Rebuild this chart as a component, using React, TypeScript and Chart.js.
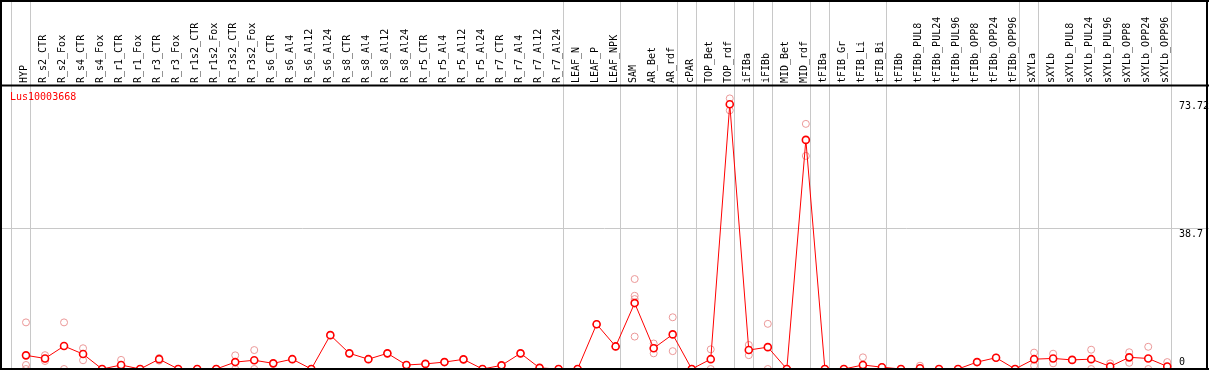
import React, { useEffect, useRef } from "react";
import { Chart, registerables } from "chart.js";

Chart.register(...registerables);

const categories = [
  "HYP", "R_s2_CTR", "R_s2_Fox", "R_s4_CTR", "R_s4_Fox", "R_r1_CTR", "R_r1_Fox", "R_r3_CTR", "R_r3_Fox",
  "R_r1s2_CTR", "R_r1s2_Fox", "R_r3s2_CTR", "R_r3s2_Fox", "R_s6_CTR", "R_s6_Al4", "R_s6_Al12", "R_s6_Al24",
  "R_s8_CTR", "R_s8_Al4", "R_s8_Al12", "R_s8_Al24", "R_r5_CTR", "R_r5_Al4", "R_r5_Al12", "R_r5_Al24",
  "R_r7_CTR", "R_r7_Al4", "R_r7_Al12", "R_r7_Al24", "LEAF_N", "LEAF_P", "LEAF_NPK", "SAM", "AR_Bet", "AR_rdf",
  "cPAR", "TOP_Bet", "TOP_rdf", "iFIBa", "iFIBb", "MID_Bet", "MID_rdf", "tFIBa", "tFIB_Gr", "tFIB_Li", "tFIB_Bi",
  "tFIBb", "tFIBb_PUL8", "tFIBb_PUL24", "tFIBb_PUL96", "tFIBb_OPP8", "tFIBb_OPP24", "tFIBb_OPP96",
  "sXYLa", "sXYLb", "sXYLb_PUL8", "sXYLb_PUL24", "sXYLb_PUL96", "sXYLb_OPP8", "sXYLb_OPP24", "sXYLb_OPP96",
];

const means = [
  3.75, 2.9, 6.3, 4.1, 0, 1.1, 0, 2.7, 0,
  0, 0, 1.9, 2.4, 1.55, 2.7, 0, 9.3,
  4.3, 2.7, 4.3, 1.1, 1.4, 1.9, 2.65, 0,
  1.0, 4.3, 0.3, 0, 0, 12.3, 6.2, 18.1, 5.7, 9.5,
  0, 2.7, 72.7, 5.2, 6.0, 0, 62.9, 0, 0, 1.1, 0.5,
  0, 0.2, 0, 0, 1.9, 3.1, 0,
  2.7, 2.9, 2.5, 2.7, 0.7, 3.2, 2.9, 0.7,
];

const rep1 = [
  12.8, 3.8, 12.8, 5.7, 0, 2.5, 0, 3.0, 0,
  0, 0, 3.75, 5.2, 1.55, 2.7, 0, 9.3,
  4.3, 2.7, 4.3, 1.1, 1.4, 1.9, 2.65, 0,
  1.0, 4.3, 0.3, 0, 0, 12.3, 6.2, 24.7, 7.0, 14.2,
  0, 5.4, 74.3, 6.6, 12.4, 0, 67.3, 0, 0, 3.2, 0.5,
  0, 0.9, 0, 0, 1.9, 3.1, 0,
  4.5, 4.2, 2.5, 5.3, 1.55, 4.6, 6.1, 1.9,
];

const rep2 = [
  1.1, 2.2, 0, 2.4, 0, 0, 0, 2.3, 0,
  0, 0, 0, 0, 1.55, 2.7, 0, 9.3,
  4.3, 2.7, 4.3, 1.1, 1.4, 1.9, 2.65, 0,
  1.0, 4.3, 0.3, 0, 0, 12.3, 6.2, 20.1, 4.3, 4.9,
  0, 0, 71.0, 3.8, 0, 0, 58.5, 0, 0, 0, 0.5,
  0, 0, 0, 0, 1.9, 3.1, 0,
  0.9, 1.55, 2.5, 0, 0, 1.7, 0, 0,
];

const rep3 = [
  0, 2.8, null, null, 0, 0.7, 0, 2.8, 0,
  0, 0, null, null, null, null, 0, null,
  null, null, null, null, null, null, null, 0,
  null, null, 0, 0, 0, null, null, 19.2, 5.8, null,
  0, null, null, null, null, 0, null, 0, 0, 0, null,
  0, 0, 0, 0, null, null, 0,
  null, null, null, null, null, null, null, null,
];

const rep4 = [
  null, null, null, null, null, null, null, null, null,
  null, null, null, null, null, null, null, null,
  null, null, null, null, null, null, null, null,
  null, null, null, null, null, null, null, 8.9, null, null,
  null, null, null, null, null, null, null, null, null, null, null,
  null, null, null, null, null, null, null,
  null, null, null, null, null, null, null, null,
];

const yTicks = [0, 38.7, 73.72];
const yGridValues = [38.7];
const groupBoundaries = [-1, 0, 28, 31, 34, 35, 37, 38, 39, 41, 42, 45, 52, 53, 60];
const title = "Lus10003668";

const FONT = '10px "DejaVu Sans Mono", monospace';

export default function App() {
  const ref = useRef<HTMLCanvasElement | null>(null);

  useEffect(() => {
    document.body.style.margin = "0";
    const canvas = ref.current;
    if (!canvas) return;

    const repPoints: { x: number; y: number }[] = [];
    [rep1, rep2, rep3, rep4].forEach((arr) => {
      arr.forEach((v, i) => {
        if (v !== null && v !== undefined) repPoints.push({ x: i, y: v as number });
      });
    });

    const decor = {
      id: "decor",
      beforeDatasetsDraw(chart: any) {
        const ctx = chart.ctx;
        const xs = chart.scales.x;
        const ys = chart.scales.y;
        const W = chart.width;
        const H = chart.height;
        ctx.save();
        ctx.strokeStyle = "#c8c8c8";
        ctx.lineWidth = 1;
        groupBoundaries.forEach((b) => {
          const x = Math.round(xs.getPixelForValue(b + 0.21)) + 0.5;
          ctx.beginPath();
          ctx.moveTo(x, 0);
          ctx.lineTo(x, H);
          ctx.stroke();
        });
        yGridValues.forEach((v) => {
          const y = Math.round(ys.getPixelForValue(v)) + 0.5;
          ctx.beginPath();
          ctx.moveTo(0, y);
          ctx.lineTo(W, y);
          ctx.stroke();
        });
        ctx.fillStyle = "#000";
        ctx.font = FONT;
        ctx.textAlign = "left";
        ctx.textBaseline = "middle";
        categories.forEach((c, i) => {
          const x = xs.getPixelForValue(i) - 1.5;
          ctx.save();
          ctx.translate(x, 83);
          ctx.rotate(-Math.PI / 2);
          ctx.fillText(c, 0, 0);
          ctx.restore();
        });
        ctx.fillStyle = "#ff0000";
        ctx.textBaseline = "middle";
        ctx.fillText(title, 10, 97);
        ctx.fillStyle = "#000";
        yTicks.forEach((v) => {
          const y = ys.getPixelForValue(v);
          if (v === 0) {
            ctx.textBaseline = "bottom";
            ctx.fillText(String(v), 1179, y - 2);
          } else {
            ctx.textBaseline = "top";
            ctx.fillText(String(v), 1179, y + 1);
          }
        });
        ctx.restore();
      },
      afterDatasetsDraw(chart: any) {
        const ctx = chart.ctx;
        const W = chart.width;
        const H = chart.height;
        ctx.save();
        ctx.strokeStyle = "#000";
        ctx.lineWidth = 2;
        ctx.beginPath();
        ctx.moveTo(0, 1);
        ctx.lineTo(W, 1);
        ctx.moveTo(1, 0);
        ctx.lineTo(1, H);
        ctx.moveTo(W - 2, 0);
        ctx.lineTo(W - 2, H);
        ctx.moveTo(0, H - 1);
        ctx.lineTo(W, H - 1);
        ctx.moveTo(0, 85.5);
        ctx.lineTo(W, 85.5);
        ctx.stroke();
        ctx.restore();
      },
    };

    const chart = new Chart(canvas, {
      type: "line",
      data: {
        datasets: [
          {
            type: "line",
            label: "mean",
            data: means.map((v, i) => ({ x: i, y: v })),
            borderColor: "#ff0000",
            borderWidth: 1,
            pointRadius: 3.5,
            pointBorderWidth: 1.6,
            pointBorderColor: "#ff0000",
            pointBackgroundColor: "#ffffff",
            tension: 0,
            clip: false as any,
            order: 1,
          },
          {
            type: "scatter",
            label: "replicates",
            data: repPoints,
            showLine: false,
            pointRadius: 3.5,
            pointBorderWidth: 1,
            pointBorderColor: "#eb9898",
            pointBackgroundColor: "rgba(0,0,0,0)",
            clip: false as any,
            order: 2,
          } as any,
        ],
      },
      options: {
        responsive: false,
        animation: false,
        devicePixelRatio: 1,
        layout: { autoPadding: false, padding: { left: 1, right: 2, top: 86, bottom: 1 } } as any,
        plugins: { legend: { display: false }, tooltip: { enabled: false }, title: { display: false } },
        scales: {
          x: { type: "linear", min: -1.314, max: 62.09, display: false },
          y: { type: "linear", min: 0, max: 77.7, display: false },
        },
        events: [],
      },
      plugins: [decor],
    });

    return () => chart.destroy();
  }, []);

  return (
    <div style={{ width: 1209, height: 370, background: "#fff" }}>
      <canvas ref={ref} width={1209} height={370} style={{ display: "block", width: 1209, height: 370 }} />
    </div>
  );
}
